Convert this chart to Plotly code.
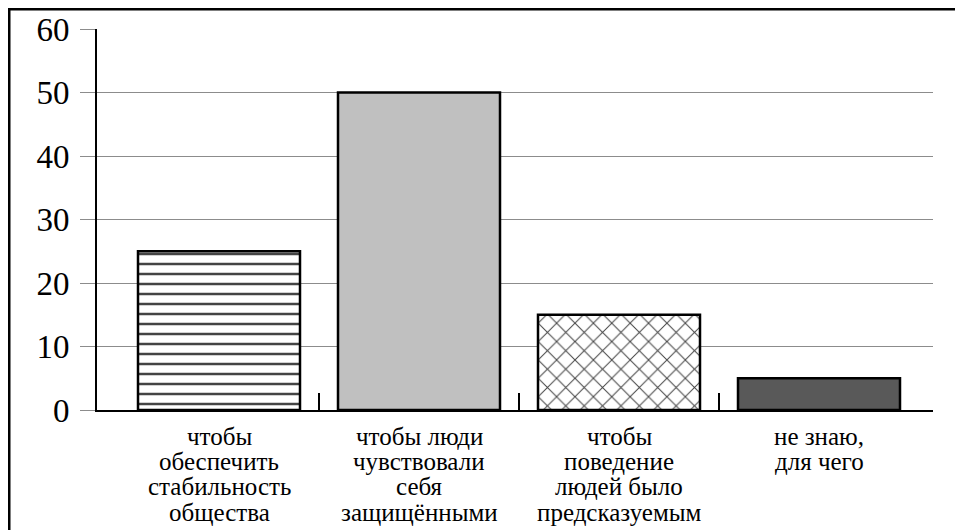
import plotly.graph_objects as go

category_lines = [
    ["чтобы", "обеспечить", "стабильность", "общества"],
    ["чтобы люди", "чувствовали", "себя", "защищёнными"],
    ["чтобы", "поведение", "людей было", "предсказуемым"],
    ["не знаю,", "для чего"],
]
values = [25, 50, 15, 5]
y_ticks = [0, 10, 20, 30, 40, 50, 60]

fill_colors = ["#FFFFFF", "#C0C0C0", "#FFFFFF", "#595959"]
patterns = ["-", "", "x", ""]

categories = [" ".join(lines) for lines in category_lines]
pos = list(range(len(categories)))
boundaries = [p + 0.5 for p in pos[:-1]]

# page body has an 8px margin: plot area should land at x 97..933, y 29..410 on screen
W, H = 955, 522
L, T = 89, 21
R = W - (933 - 8)
B = H - (410 - 8)
plot_w = W - L - R
plot_h = H - T - B

LABEL_SIZE = 25
LINE_STEP = 25.4
FIRST_LINE = 26

fig = go.Figure()
fig.add_trace(go.Bar(
    x=pos,
    y=values,
    width=0.81,
    marker=dict(
        color=fill_colors,
        line=dict(color="black", width=2.5),
        pattern=dict(shape=patterns, fgcolor="black", fgopacity=1,
                     size=[10, 10, 13, 10],
                     solidity=[0.25, 0.3, 0.15, 0.3]),
    ),
    customdata=categories,
    showlegend=False,
    hoverinfo="skip",
))

annotations = []
for p, lines in zip(pos, category_lines):
    for i, line in enumerate(lines):
        annotations.append(dict(
            x=p, xref="x", y=0, yref="paper",
            text=line, showarrow=False,
            xanchor="center", yanchor="middle",
            yshift=-(FIRST_LINE + i * LINE_STEP),
            font=dict(size=LABEL_SIZE, color="black",
                      family="Liberation Serif, Times New Roman, serif"),
        ))

fig.update_layout(
    width=W, height=H,
    margin=dict(l=L, r=R, t=T, b=B, autoexpand=False),
    paper_bgcolor="white",
    plot_bgcolor="white",
    font=dict(family="Liberation Serif, Times New Roman, serif", color="black"),
    showlegend=False,
    annotations=annotations,
    xaxis=dict(
        range=[-0.61, 3.57],
        automargin=False,
        tickmode="array",
        tickvals=pos,
        showticklabels=False,
        ticks="",
        showline=True, linecolor="black", linewidth=2,
        showgrid=False, zeroline=False,
        minor=dict(tickmode="array", tickvals=boundaries, ticks="inside",
                   ticklen=17, tickwidth=2, tickcolor="black", showgrid=False),
    ),
    yaxis=dict(
        range=[0, 60],
        automargin=False,
        tickmode="array",
        tickvals=y_ticks,
        ticks="outside", ticklen=15, tickwidth=1, tickcolor="#8c8c8c",
        tickfont=dict(size=33),
        ticklabelstandoff=4,
        showline=True, linecolor="black", linewidth=2,
        showgrid=True, gridcolor="#8c8c8c", gridwidth=1,
        zeroline=False,
    ),
    shapes=[dict(
        type="rect", xref="paper", yref="paper",
        x0=(0.5 - L) / plot_w, x1=1.3,
        y0=-0.6, y1=(H - B - 0.5) / plot_h,
        line=dict(color="black", width=4),
        fillcolor="rgba(0,0,0,0)",
        layer="above",
    )],
)

fig.write_html("out.html")
